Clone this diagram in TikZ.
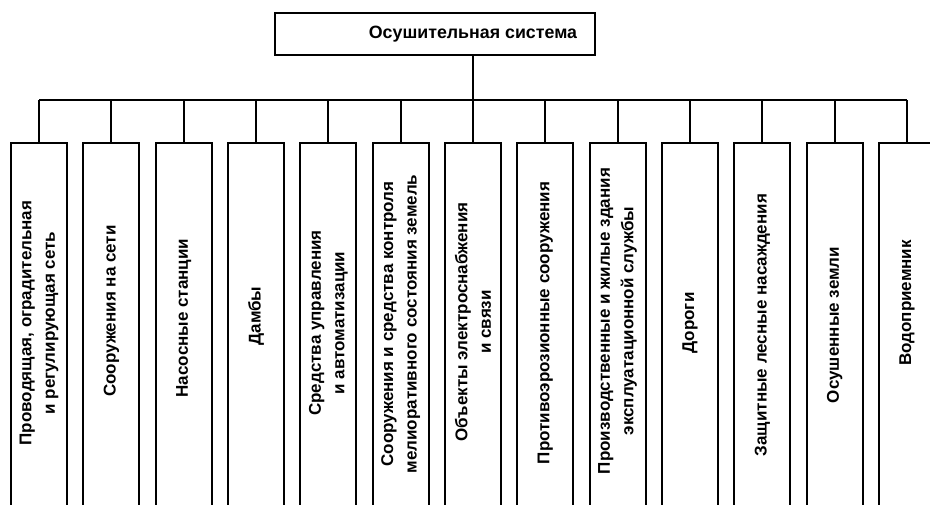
\documentclass[tikz,border=0pt]{standalone}
\usepackage{fontspec}
\setmainfont{Liberation Sans}
\begin{document}
\begin{tikzpicture}[x=1pt,y=-1pt,
  every node/.style={font=\fontsize{17}{23.5}\selectfont\bfseries},
  topbox/.style={draw,line width=2.2pt,minimum width=320pt,minimum height=42pt,inner sep=0pt},
  itembox/.style={draw,line width=2pt,minimum width=56pt,minimum height=372pt,inner sep=0pt,anchor=north},
  itemtext/.style={rotate=90,align=center,inner sep=0pt},
  link/.style={line width=2pt},
  bus/.style={line width=2.6pt}]
\useasboundingbox (0,0) rectangle (930,504);
\fill[white] (0,0) rectangle (930,504);
\node[topbox] (top) at (435,34) {};
\node[inner sep=0pt,font=\fontsize{17.8}{22}\selectfont\bfseries] (toptext) at (473,34) {Осушительная система};
\coordinate (busL) at (39,100);
\coordinate (busR) at (907,100);
\coordinate (busC) at (473,100);
\draw[bus] (busL) -- (busR);
\draw[link] (top.south -| busC) -- (busC);
\foreach \i/\ty/\t in {
 1/323/{Проводящая, оградительная\\и регулирующая сеть},
 2/311/{Сооружения на сети},
 3/318/{Насосные станции},
 4/316/{Дамбы},
 5/323/{Средства управления\\и автоматизации},
 6/324/{Сооружения и средства контроля\\мелиоративного состояния земель},
 7/322/{Объекты электроснабжения\\и связи},
 8/323/{Противоэрозионные сооружения},
 9/321/{Производственные и жилые здания\\эксплуатационной службы},
 10/323/{Дороги},
 11/325/{Защитные лесные насаждения},
 12/325/{Осушенные земли},
 13/303/{Водоприемник}}{
  \pgfmathsetmacro{\cx}{39+72.33*(\i-1)}
  \node[itembox] (b\i) at (\cx,142) {};
  \node[itemtext] (t\i) at (\cx,\ty) {\t};
  \draw[link] (b\i.north |- busL) -- (b\i.north);
}
\end{tikzpicture}
\end{document}
